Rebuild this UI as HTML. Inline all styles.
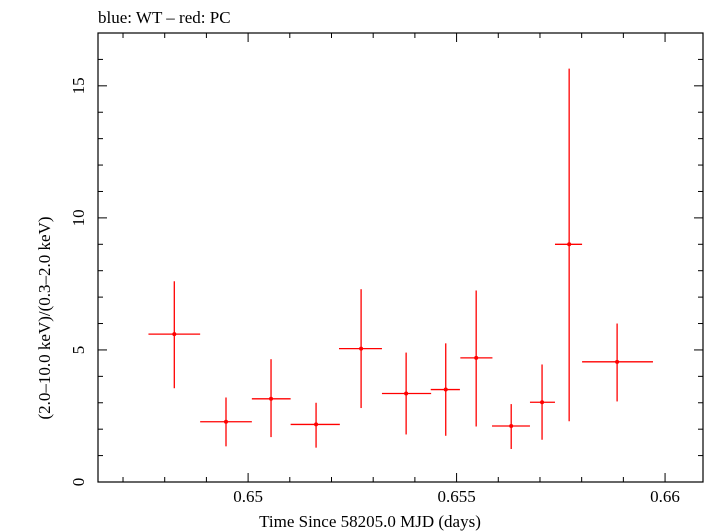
<!DOCTYPE html>
<html><head><meta charset="utf-8"><style>
body{margin:0;background:#fff}
svg{display:block;font-family:"Liberation Serif",serif}
</style></head><body>
<svg id="chart" width="705" height="532">
<text x="98" y="23" font-size="17">blue: WT – red: PC</text>
<rect x="98" y="33" width="605" height="449" fill="none" stroke="#000" stroke-width="1.2"/>
<g id="ticks"></g>
<g id="marks"></g>
<text x="370" y="527" font-size="17" text-anchor="middle">Time Since 58205.0 MJD (days)</text>
<text transform="translate(50,318) rotate(-90)" font-size="17" text-anchor="middle">(2.0–10.0 keV)/(0.3–2.0 keV)</text>
</svg>
<script>
const times=[0.64823,0.64947,0.65055,0.65163,0.65271,0.65379,0.65474,0.65547,0.65631,0.65705,0.6577,0.65885];
const timeErrLo=[0.00062,0.00062,0.00046,0.00061,0.00053,0.00058,0.00036,0.00038,0.00046,0.00029,0.00034,0.00084];
const timeErrHi=[0.00062,0.00062,0.00047,0.00057,0.00050,0.00060,0.00034,0.00039,0.00045,0.00031,0.00031,0.00086];
const ratios=[5.6,2.28,3.15,2.18,5.05,3.35,3.5,4.7,2.12,3.02,9.0,4.55];
const ratioLo=[3.55,1.35,1.7,1.3,2.8,1.8,1.75,2.1,1.25,1.6,2.3,3.05];
const ratioHi=[7.6,3.2,4.65,3.0,7.3,4.9,5.25,7.25,2.95,4.45,15.65,6.0];
const xTicks=[0.65,0.655,0.66];
const xTickLabels=["0.65","0.655","0.66"];
const yTicks=[0,5,10,15];
const yTickLabels=["0","5","10","15"];
const X0=98,X1=703,Y0=482,Y1=33,XMIN=0.64640,XMAX=0.66091,YMIN=0,YMAX=17;
const sx=v=>X0+(v-XMIN)/(XMAX-XMIN)*(X1-X0);
const sy=v=>Y0-(v-YMIN)/(YMAX-YMIN)*(Y0-Y1);
const NS="http://www.w3.org/2000/svg";
function mk(tag,attrs,parent){const e=document.createElementNS(NS,tag);for(const k in attrs)e.setAttribute(k,attrs[k]);parent.appendChild(e);return e;}
const tg=document.getElementById('ticks'),mg=document.getElementById('marks');
// minor x ticks
for(let v=0.647;v<=0.6605;v+=0.001){const x=sx(v);const major=xTicks.some(t=>Math.abs(t-v)<1e-6);const L=major?9:5;
 const a=mk('line',{x1:x,x2:x,y1:Y0,y2:Y0-L,stroke:'#000','stroke-width':1},tg);
 
 
 const b=mk('line',{x1:x,x2:x,y1:Y1,y2:Y1+L,stroke:'#000','stroke-width':1},tg);
 
 }
xTicks.forEach((v,i)=>{const t=mk('text',{x:sx(v),y:502,'font-size':17,'text-anchor':'middle'},tg);t.textContent=xTickLabels[i];
 
 });
for(let v=0;v<=17;v++){const y=sy(v);const L=v%5===0?9:5;
 const a=mk('line',{x1:X0,x2:X0+L,y1:y,y2:y,stroke:'#000','stroke-width':1},tg);
 
 
 const b=mk('line',{x1:X1,x2:X1-L,y1:y,y2:y,stroke:'#000','stroke-width':1},tg);
 
 }
yTicks.forEach((v,i)=>{const y=sy(v);const t=mk('text',{transform:`translate(84,${y}) rotate(-90)`,'font-size':17,'text-anchor':'middle'},tg);t.textContent=yTickLabels[i];
 
 });
times.forEach((t,i)=>{const g=mk('g',{},mg);
 
 
 mk('line',{x1:sx(t-timeErrLo[i]),x2:sx(t+timeErrHi[i]),y1:sy(ratios[i]),y2:sy(ratios[i]),stroke:'#f00','stroke-width':1.3},g);
 mk('line',{x1:sx(t),x2:sx(t),y1:sy(ratioLo[i]),y2:sy(ratioHi[i]),stroke:'#f00','stroke-width':1.3},g);
 mk('circle',{cx:sx(t),cy:sy(ratios[i]),r:2,fill:'#f00'},g);});
</script>
</body></html>
